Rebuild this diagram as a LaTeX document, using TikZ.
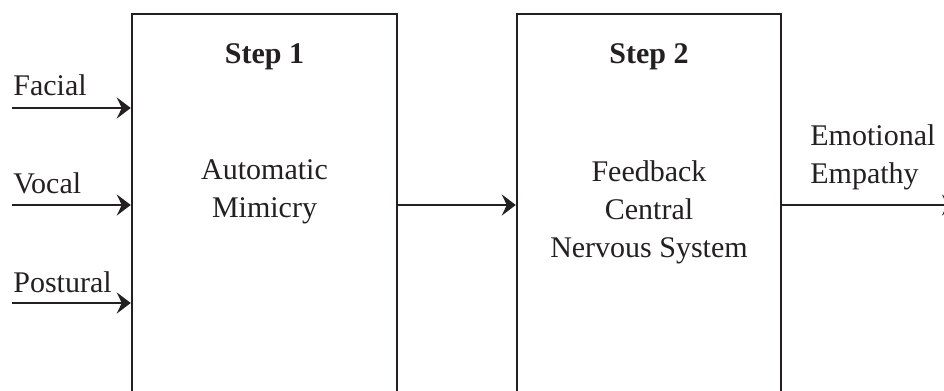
\documentclass[tikz,border=0pt]{standalone}
\usepackage{fontspec}
\setmainfont{Liberation Serif}
\usepackage{tikz}
\usetikzlibrary{arrows.meta}
\definecolor{ink}{rgb}{0.14,0.12,0.13}

\begin{document}
\begin{tikzpicture}[x=0.5pt, y=-0.5pt,
	every node/.style={font=\fontsize{15}{19}\selectfont, text=ink},
	stepbox/.style={draw=ink, line width=1.2pt, minimum height=191pt, inner sep=0pt},
	title/.style={font=\fontsize{15}{19}\selectfont\bfseries, anchor=base},
	body/.style={align=center, anchor=base},
	label/.style={anchor=base west, inner sep=0pt},
	link/.style={draw=ink, line width=1.2pt, -{Stealth[length=7pt, width=10.5pt, inset=2.5pt]}},
	]

    \clip (0,0) rectangle (944,391);

    \node[stepbox, minimum width=132.5pt] (step1) at (264.5,205) {};
    \node[stepbox, minimum width=132pt] (step2) at (649,205) {};

    \node[title] (title1) at (step1.center |- 0,63) {Step 1};
    \node[title] (title2) at (step2.center |- 0,63) {Step 2};
    \node[body] (body1) at (step1.center |- 0,217) {Automatic\\Mimicry};
    \node[body] (body2) at (step2.center |- 0,257) {Feedback\\Central\\Nervous System};

    \coordinate (facial) at (12,108);
    \coordinate (vocal) at (12,205);
    \coordinate (postural) at (12,303);
    \coordinate (empathy) at (956,205);

    \node[label] (facialtext) at (13,96) {Facial};
    \node[label] (vocaltext) at (13,193) {Vocal};
    \node[label] (posturaltext) at (13,292) {Postural};
    \node[label, align=left] (empathytext) at (810,183) {Emotional\\Empathy};

    \draw[link] (facial) -- (facial -| step1.west);
    \draw[link] (vocal) -- (step1.west);
    \draw[link] (postural) -- (postural -| step1.west);
    \draw[link] (step1.east) -- (step2.west);
    \draw[link] (step2.east) -- (empathy);
\end{tikzpicture}
\end{document}
